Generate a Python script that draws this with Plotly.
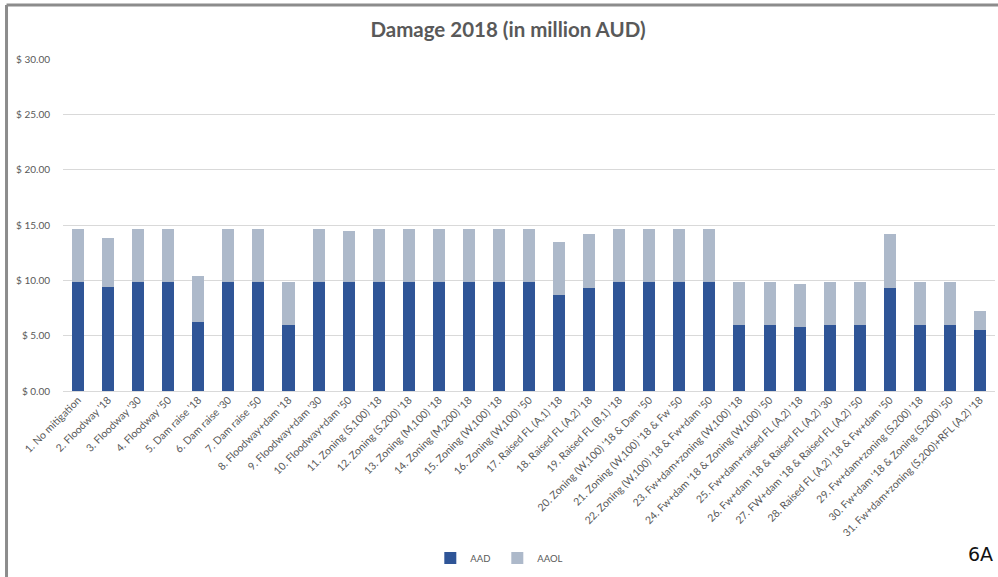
import plotly.graph_objects as go

categories = [
    "1. No mitigation", "2. Floodway '18", "3. Floodway '30", "4. Floodway '50",
    "5. Dam raise '18", "6. Dam raise '30", "7. Dam raise '50",
    "8. Floodway+dam '18", "9. Floodway+dam '30", "10. Floodway+dam '50",
    "11. Zoning (S,100) '18", "12. Zoning (S,200) '18", "13. Zoning (M,100) '18",
    "14. Zoning (M,200) '18", "15. Zoning (W,100) '18", "16. Zoning (W,100) '50",
    "17. Raised FL (A,1) '18", "18. Raised FL (A,2) '18", "19. Raised FL (B,1) '18",
    "20. Zoning (W,100) '18 & Dam '50", "21. Zoning (W,100) '18 & Fw '50",
    "22. Zoning (W,100) '18 & Fw+dam '50", "23. Fw+dam+zoning (W,100) '18",
    "24. Fw+dam '18 & Zoning (W,100) '50", "25. Fw+dam+raised FL (A,2) '18",
    "26. Fw+dam '18 & Raised FL (A,2) '30", "27. FW+dam '18 & Raised FL (A,2) '50",
    "28. Raised FL (A,2) '18 & Fw+dam '50", "29. Fw+dam+zoning (S,200) '18",
    "30. Fw+dam '18 & Zoning (S,200) '50", "31. Fw+dam+zoning (S,200)+RFL (A,2) '18",
]

aad = [9.82, 9.40, 9.82, 9.82, 6.21, 9.82, 9.82, 5.96, 9.82, 9.82,
       9.82, 9.82, 9.82, 9.82, 9.82, 9.82, 8.68, 9.34, 9.82, 9.82,
       9.82, 9.82, 5.96, 5.96, 5.75, 5.96, 5.96, 9.34, 5.96, 5.96, 5.48]

aaol = [4.85, 4.42, 4.85, 4.85, 4.15, 4.85, 4.85, 3.89, 4.85, 4.61,
        4.85, 4.85, 4.85, 4.85, 4.85, 4.85, 4.81, 4.84, 4.85, 4.85,
        4.85, 4.85, 3.89, 3.89, 3.89, 3.89, 3.89, 4.84, 3.89, 3.89, 1.72]

y_ticks = [0, 5, 10, 15, 20, 25, 30]
y_tick_labels = ["$ 0.00", "$ 5.00", "$ 10.00", "$ 15.00", "$ 20.00", "$ 25.00", "$ 30.00"]

FONT = "Lato, Calibri, Carlito, sans-serif"
GREY = "#595959"

fig = go.Figure()
fig.add_trace(go.Bar(x=categories, y=aad, name="AAD", marker=dict(color="#2F5597", line=dict(width=0))))
fig.add_trace(go.Bar(x=categories, y=aaol, name="AAOL", marker=dict(color="#ADB9CA", line=dict(width=0))))

fig.update_layout(
    barmode="stack",
    bargap=0.6,
    width=998, height=577,
    margin=dict(l=62.5, r=3, t=58.5, b=186.3, autoexpand=False),
    paper_bgcolor="white", plot_bgcolor="white",
    font=dict(family=FONT, color=GREY, size=10),
    title=dict(text="<b>Damage 2018 (in million AUD)</b>", x=0.509, xanchor="center",
               y=0.948, yanchor="middle", font=dict(size=20.5, color=GREY, family=FONT)),
    showlegend=True,
    legend=dict(orientation="h", x=0.466, xanchor="center", y=-0.503, yanchor="middle",
                font=dict(size=9.5, color=GREY), itemwidth=30, entrywidth=22,
                entrywidthmode="pixels", traceorder="normal",
                bgcolor="rgba(0,0,0,0)"),
    xaxis=dict(tickangle=-45, tickfont=dict(size=10.5, color=GREY), showgrid=False,
               showline=False, ticks="", automargin=False),
    yaxis=dict(range=[0, 30], tickvals=y_ticks, ticktext=y_tick_labels,
               showgrid=True, gridcolor="#D9D9D9", gridwidth=1, zeroline=True,
               zerolinecolor="#D9D9D9", zerolinewidth=1, showline=False,
               tickfont=dict(size=10, color=GREY), ticklabelstandoff=12, automargin=False),
)

# frame of the slide (left and top border)
fig.add_shape(type="line", xref="paper", yref="paper", x0=-0.0606, x1=-0.0606, y0=-0.56, y1=1.163,
              line=dict(color="#8C8C8C", width=3), layer="above")
fig.add_shape(type="line", xref="paper", yref="paper", x0=-0.0606, x1=1.01, y0=1.163, y1=1.163,
              line=dict(color="#8C8C8C", width=3), layer="above")

fig.add_annotation(text="6A", xref="paper", yref="paper", x=0.9995, xanchor="right",
                   y=-0.49, yanchor="middle", showarrow=False,
                   font=dict(size=19, color="#111111", family="DejaVu Sans, sans-serif"))

fig.write_html("out.html", config={"displayModeBar": False},
               post_script="document.body.style.margin='0';document.body.style.overflow='hidden';")
